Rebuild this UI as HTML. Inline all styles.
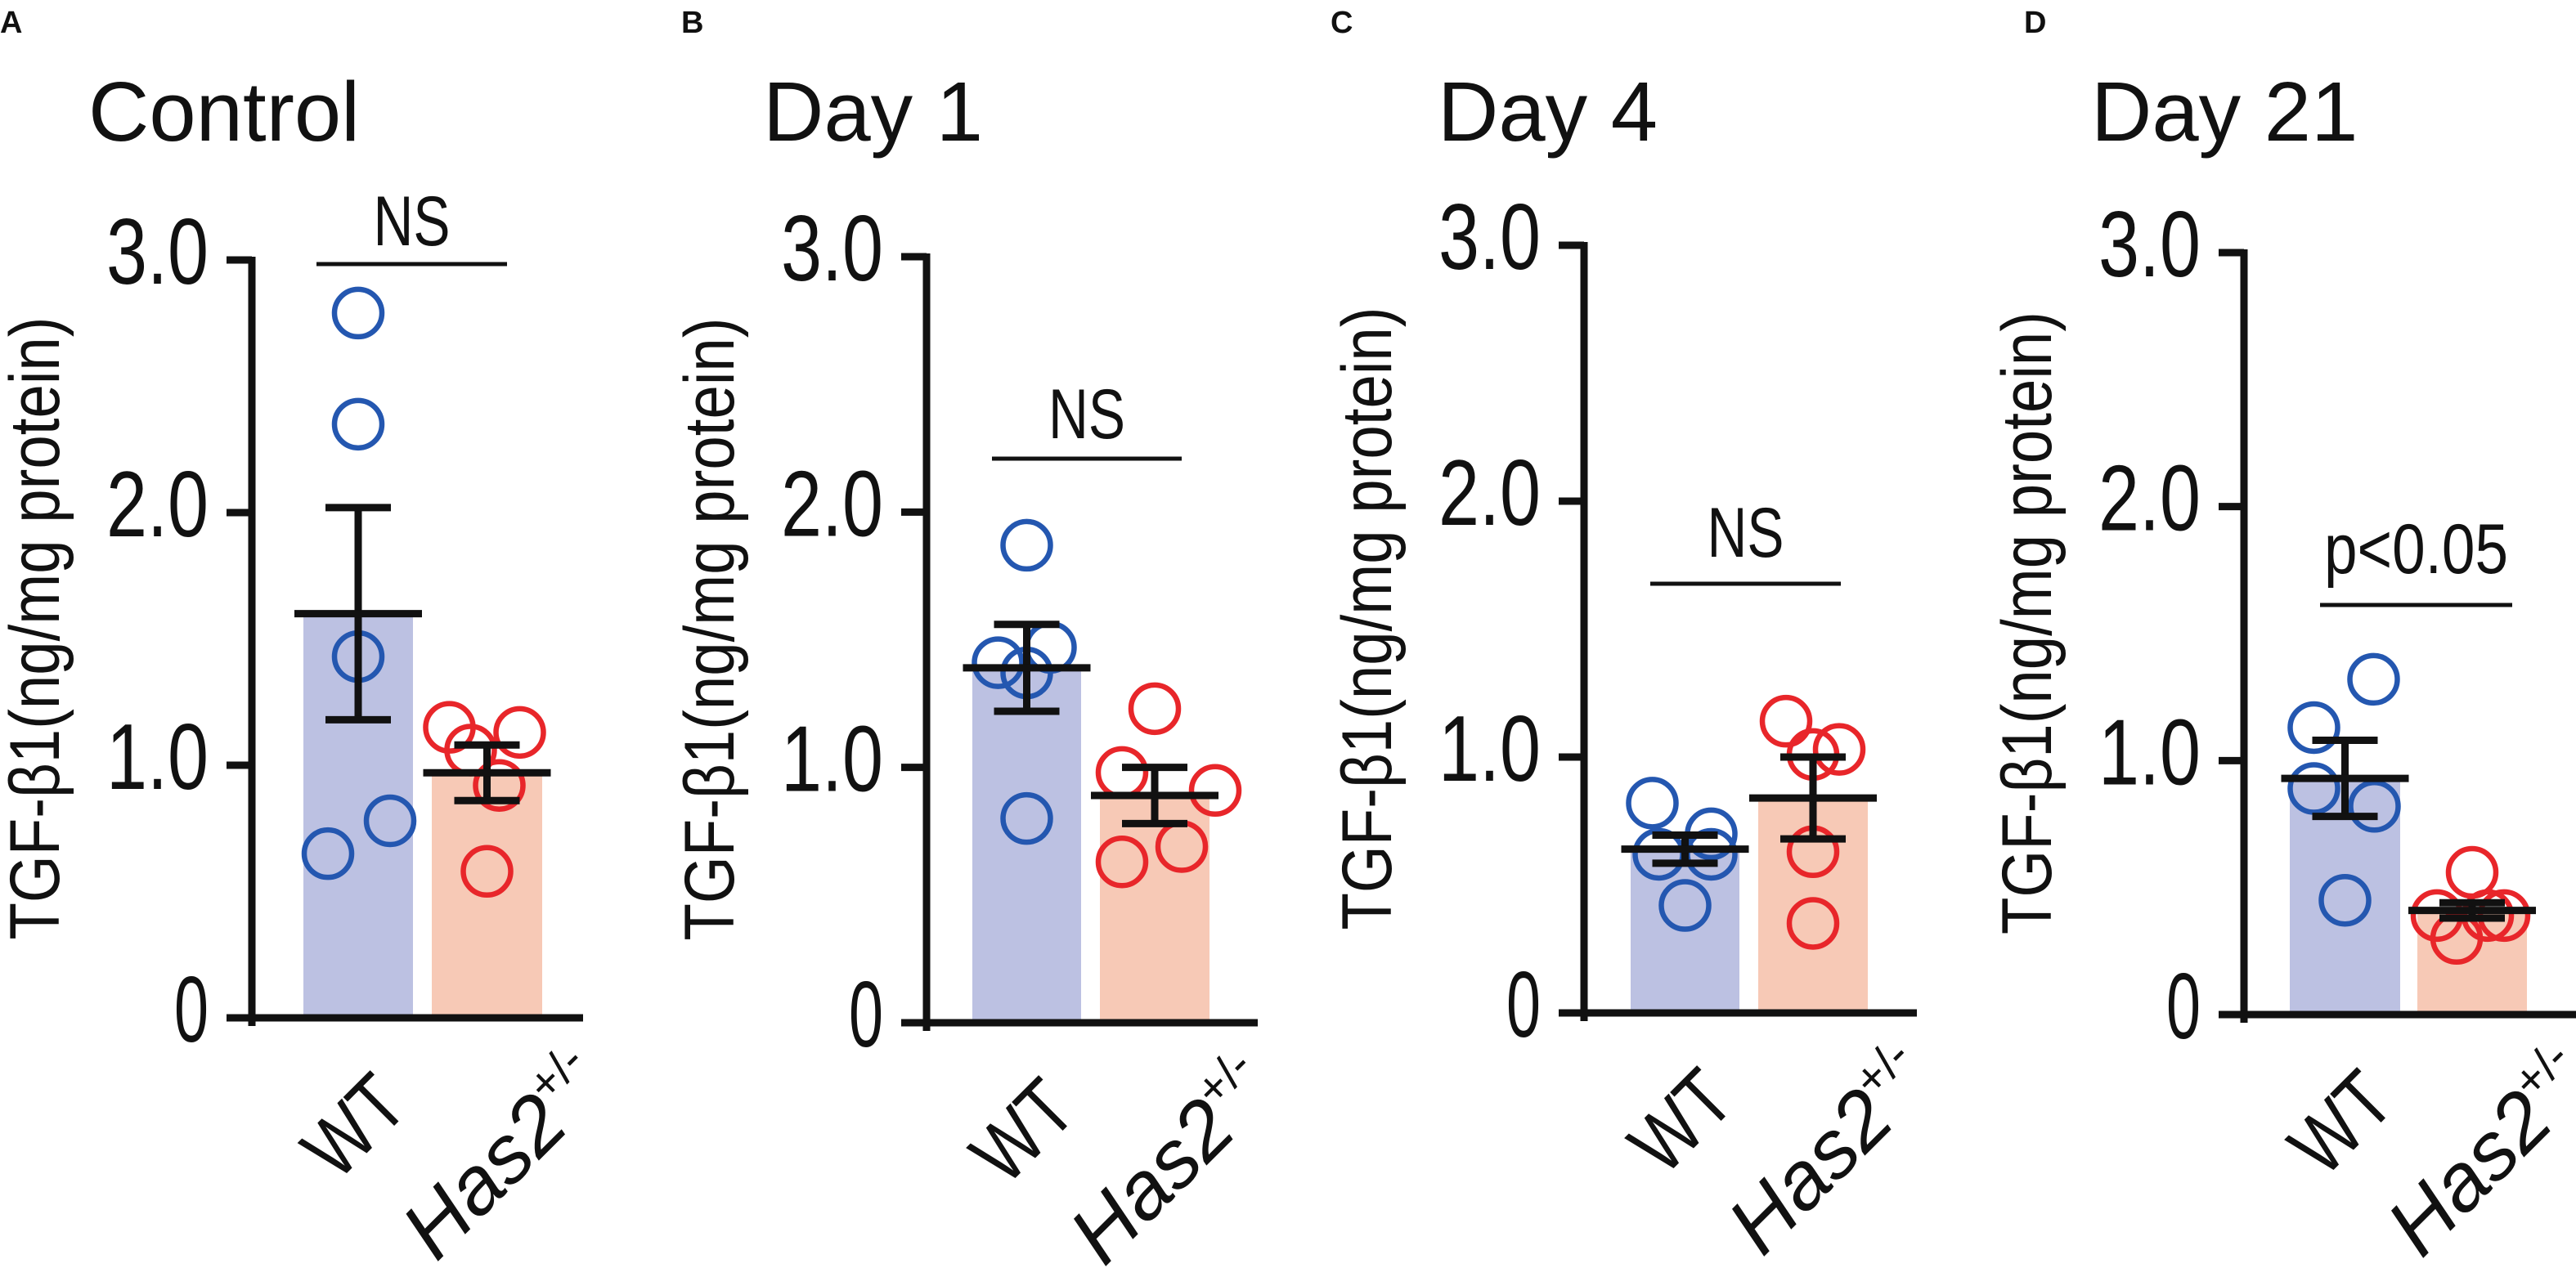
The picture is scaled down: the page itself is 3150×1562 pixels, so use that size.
<!DOCTYPE html>
<html><head><meta charset="utf-8"><style>
html,body{margin:0;padding:0;background:#fff;}
svg{display:block;}
text{font-family:"Liberation Sans",Arial,sans-serif;fill:#111;}
</style></head><body>
<svg id="fig" width="3150" height="1562" viewBox="0 0 3150 1562" xmlns="http://www.w3.org/2000/svg"></svg>
<script>
// ---- data ----
const categories = ["WT", "Has2"];
const panelLetters = ["A", "B", "C", "D"];
const panelTitles = ["Control", "Day 1", "Day 4", "Day 21"];
const sigLabels = ["NS", "NS", "NS", "p<0.05"];
const yTickValues = [0, 1, 2, 3];
const yTickLabels = ["0", "1.0", "2.0", "3.0"];
const wtMeans = [1.60, 1.39, 0.64, 0.93];
const wtSem = [0.42, 0.17, 0.055, 0.15];
const hasMeans = [0.97, 0.89, 0.84, 0.41];
const hasSem = [0.11, 0.11, 0.16, 0.03];
const wtPointsA = [2.79, 2.35, 1.43, 0.65, 0.78];
const wtPointsB = [1.87, 1.41, 1.47, 1.37, 0.80];
const wtPointsC = [0.82, 0.70, 0.62, 0.62, 0.42];
const wtPointsD = [1.13, 1.32, 0.89, 0.82, 0.45];
const hasPointsA = [1.15, 1.13, 1.06, 0.92, 0.58];
const hasPointsB = [1.23, 0.98, 0.91, 0.69, 0.63];
const hasPointsC = [1.14, 1.01, 1.03, 0.63, 0.35];
const hasPointsD = [0.56, 0.39, 0.39, 0.30, 0.39];

// ---- layout (not data) ----
const layout = [
  {ax:308, y0:1245, y3:318, b1:[371,505], b2:[528,663], end:713, tx:108, lx:0, sx:[387,620], sy:323, sb:300, sw:94},
  {ax:1133, y0:1251, y3:314, b1:[1189,1322], b2:[1345,1479], end:1538, tx:933, lx:833, sx:[1213,1445], sy:561, sb:536, sw:94},
  {ax:1937, y0:1239, y3:300, b1:[1994,2127], b2:[2150,2284], end:2344, tx:1758, lx:1627, sx:[2018,2251], sy:714, sb:681, sw:94},
  {ax:2744, y0:1241, y3:309, b1:[2800,2935], b2:[2956,3090], end:3150, tx:2557, lx:2475, sx:[2837,3072], sy:740, sb:701, sw:225}
];
const wtJitter = [[0,0,0,-37,39],[0,-35,29,0,0],[-40,32,-32,32,0],[-38,35,-38,36,0]];
const hasJitter = [[-46,40,-20,15,0],[0,-40,74,33,-40],[-33,0,32,0,0],[0,-43,39,-19,19]];
const wtPts = [wtPointsA, wtPointsB, wtPointsC, wtPointsD];
const hasPts = [hasPointsA, hasPointsB, hasPointsC, hasPointsD];

const NS = "http://www.w3.org/2000/svg";
const svg = document.getElementById("fig");
function mk(tag, attrs, parent){
  const e = document.createElementNS(NS, tag);
  for (const k in attrs) e.setAttribute(k, attrs[k]);
  (parent||svg).appendChild(e);
  return e;
}

layout.forEach((L, p) => {
  const g = mk("g", {});
  
  
  const yScale = v => L.y0 - v * (L.y0 - L.y3) / 3;
  const c1 = (L.b1[0] + L.b1[1]) / 2, c2 = (L.b2[0] + L.b2[1]) / 2;

  // letter
  const letter = mk("text", {x:L.lx, y:40, "font-size":38, "font-weight":"bold"}, g);
  letter.textContent = panelLetters[p];
  
  
  // title
  const title = mk("text", {x:L.tx, y:172, "font-size":103}, g);
  title.textContent = panelTitles[p];
  
  

  // bars
  const bar1 = mk("rect", {x:L.b1[0], y:yScale(wtMeans[p]), width:L.b1[1]-L.b1[0], height:L.y0-yScale(wtMeans[p]), fill:"#bcc1e2"}, g);
  
  
  const bar2 = mk("rect", {x:L.b2[0], y:yScale(hasMeans[p]), width:L.b2[1]-L.b2[0], height:L.y0-yScale(hasMeans[p]), fill:"#f7c9b6"}, g);
  
  

  // points
  wtPts[p].forEach((v, i) => {
    const c = mk("circle", {cx:c1 + wtJitter[p][i], cy:yScale(v), r:29, fill:"none", stroke:"#2457b0", "stroke-width":6.5}, g);
    
    
  });
  hasPts[p].forEach((v, i) => {
    const c = mk("circle", {cx:c2 + hasJitter[p][i], cy:yScale(v), r:29, fill:"none", stroke:"#e8262a", "stroke-width":6.5}, g);
    
    
  });

  // error bars
  [[c1, wtMeans[p], wtSem[p], 'wt'], [c2, hasMeans[p], hasSem[p], 'has2']].forEach(([cx, m, s, nm]) => {
    const eg = mk("g", {stroke:"#111", "stroke-width":9, fill:"none"}, g);
    
    
    mk("line", {x1:cx, x2:cx, y1:yScale(m+s), y2:yScale(m-s)}, eg);
    mk("line", {x1:cx-40, x2:cx+40, y1:yScale(m+s), y2:yScale(m+s)}, eg);
    mk("line", {x1:cx-40, x2:cx+40, y1:yScale(m-s), y2:yScale(m-s)}, eg);
    mk("line", {x1:cx-78, x2:cx+78, y1:yScale(m), y2:yScale(m)}, eg);
  });

  // axes
  const ay = mk("line", {x1:L.ax, x2:L.ax, y1:yScale(3)-4, y2:L.y0+10, stroke:"#111", "stroke-width":9}, g);
  
  
  const axx = mk("line", {x1:L.ax-31, x2:L.end, y1:L.y0, y2:L.y0, stroke:"#111", "stroke-width":9}, g);
  
  
  yTickValues.forEach((v, i) => {
    const t = mk("line", {x1:L.ax-31, x2:L.ax, y1:yScale(v), y2:yScale(v), stroke:"#111", "stroke-width":9}, g);
    
    
    const lab = mk("text", {x:L.ax-53, y:yScale(v)+29, "font-size":114, "text-anchor":"end",
      textLength: yTickLabels[i].length === 1 ? 42 : 125, lengthAdjust:"spacingAndGlyphs"}, g);
    lab.textContent = yTickLabels[i];
    
    
  });

  // y label
  const ymid = (L.y0 + yScale(3)) / 2 - 13;
  const yl = mk("text", {x:0, y:0, "font-size":86, "text-anchor":"middle", textLength:762, lengthAdjust:"spacingAndGlyphs",
    transform:`translate(${L.ax-236},${ymid}) rotate(-90)`}, g);
  yl.textContent = "TGF-β1(ng/mg protein)";
  
  

  // x labels
  const xl1 = mk("text", {x:0, y:0, "font-size":100, textLength:128, lengthAdjust:"spacingAndGlyphs",
    transform:`translate(${c1-26},${L.y0+202}) rotate(-45)`}, g);
  xl1.textContent = categories[0];
  
  
  const xl2 = mk("text", {x:0, y:0, "font-size":100, "font-style":"italic",
    transform:`translate(${c2-62},${L.y0+300}) rotate(-45)`}, g);
  
  
  const ts1 = mk("tspan", {}, xl2); ts1.textContent = categories[1];
  const ts2 = mk("tspan", {"font-size":58, dy:-42, "font-style":"normal"}, xl2); ts2.textContent = "+/-";

  // significance
  const sl = mk("line", {x1:L.sx[0], x2:L.sx[1], y1:L.sy, y2:L.sy, stroke:"#111", "stroke-width":5}, g);
  
  
  const st = mk("text", {x:(L.sx[0]+L.sx[1])/2, y:L.sb, "font-size":86, "text-anchor":"middle", textLength:L.sw, lengthAdjust:"spacingAndGlyphs"}, g);
  st.textContent = sigLabels[p];
  
  
});
</script>
</body></html>
